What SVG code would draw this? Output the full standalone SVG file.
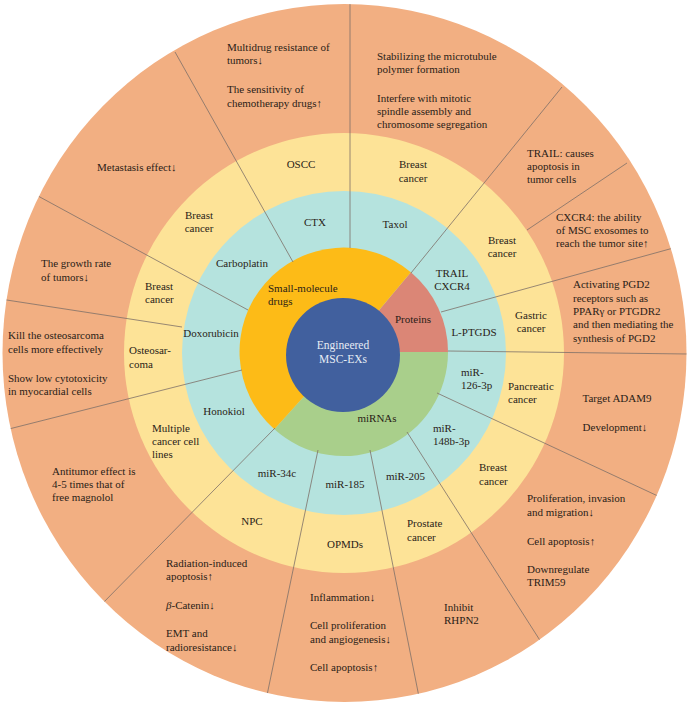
<svg xmlns="http://www.w3.org/2000/svg" width="688" height="709" viewBox="0 0 688 709">
<style>
text{font-family:"Liberation Serif","DejaVu Serif",serif;font-size:11px;fill:#2a1d17}
.c{text-anchor:middle}
.w{fill:#e6ecf4;font-size:11.5px}
.ln{stroke:#7d7068;stroke-width:0.8;fill:none}
</style>
<defs>
<clipPath id="outerClip"><ellipse cx="344.5" cy="353" rx="342" ry="349"/></clipPath>
</defs>
<rect width="688" height="709" fill="#ffffff"/>
<g id="rings">
<ellipse cx="344.5" cy="353" rx="342" ry="349" fill="#F2AF82"/>
<circle cx="344" cy="353" r="220" fill="#FDE397"/>
<circle cx="344" cy="353" r="162" fill="#B5E3DE"/>
<path id="w-red" d="M344,352 L410.85,272.33 A104,104 0 0,1 448,352 Z" fill="#DB8676"/>
<path id="w-green" d="M344,352 L448,352 A104,104 0 0,1 274.4,429.3 Z" fill="#A9CF8B"/>
<path id="w-orange" d="M344,352 L274.4,429.3 A104,104 0 0,1 410.85,272.33 Z" fill="#FDBB17"/>
<circle cx="343" cy="355" r="57" fill="#41609E"/>
</g>
<g id="connectors" clip-path="url(#outerClip)">
<line class="ln" x1="175" y1="52" x2="293" y2="262"/>
<line class="ln" x1="350" y1="0" x2="350" y2="248"/>
<line class="ln" x1="562" y1="87" x2="411" y2="273"/>
<line class="ln" x1="627" y1="163" x2="527" y2="230"/>
<line class="ln" x1="677" y1="247" x2="441" y2="312"/>
<line class="ln" x1="448" y1="351" x2="688" y2="354"/>
<line class="ln" x1="437" y1="393" x2="660" y2="497"/>
<line class="ln" x1="407" y1="432" x2="541" y2="642"/>
<line class="ln" x1="370" y1="450" x2="420" y2="702"/>
<line class="ln" x1="318" y1="450" x2="266" y2="700"/>
<line class="ln" x1="275" y1="428" x2="100" y2="606"/>
<line class="ln" x1="242" y1="370" x2="5" y2="430"/>
<line class="ln" x1="182" y1="327" x2="0" y2="299"/>
<line class="ln" x1="248" y1="310" x2="38" y2="196"/>
</g>
<g id="center"><text class="c w" x="343" y="349">Engineered</text><text class="c w" x="343" y="363">MSC-EXs</text></g>
<g id="cat-small"><text x="268" y="292">Small-molecule</text><text x="268" y="305">drugs</text></g>
<g id="cat-proteins"><text class="c" x="413" y="323">Proteins</text></g>
<g id="cat-mirnas"><text class="c" x="377" y="422">miRNAs</text></g>
<g id="cargo-ctx"><text class="c" x="315" y="226">CTX</text></g>
<g id="cargo-taxol"><text class="c" x="395" y="228">Taxol</text></g>
<g id="cargo-trail"><text class="c" x="452" y="277">TRAIL</text><text class="c" x="452" y="290">CXCR4</text></g>
<g id="cargo-lptgds"><text class="c" x="474" y="336">L-PTGDS</text></g>
<g id="cargo-mir126"><text x="461" y="376">miR-</text><text x="461" y="389">126-3p</text></g>
<g id="cargo-mir148"><text x="433" y="432">miR-</text><text x="433" y="445">148b-3p</text></g>
<g id="cargo-mir205"><text x="386" y="480">miR-205</text></g>
<g id="cargo-mir185"><text class="c" x="345" y="488">miR-185</text></g>
<g id="cargo-mir34c"><text class="c" x="277" y="477">miR-34c</text></g>
<g id="cargo-honokiol"><text class="c" x="224" y="415">Honokiol</text></g>
<g id="cargo-doxorubicin"><text class="c" x="211" y="337">Doxorubicin</text></g>
<g id="cargo-carboplatin"><text class="c" x="242" y="267">Carboplatin</text></g>
<g id="dis-oscc"><text class="c" x="301" y="168">OSCC</text></g>
<g id="dis-breast1"><text class="c" x="199" y="219">Breast</text><text class="c" x="199" y="232">cancer</text></g>
<g id="dis-breast2"><text class="c" x="413" y="168">Breast</text><text class="c" x="413" y="182">cancer</text></g>
<g id="dis-breast3"><text class="c" x="502" y="244">Breast</text><text class="c" x="502" y="257">cancer</text></g>
<g id="dis-gastric"><text class="c" x="531" y="319">Gastric</text><text class="c" x="531" y="332">cancer</text></g>
<g id="dis-pancreatic"><text x="508" y="390">Pancreatic</text><text x="508" y="403">cancer</text></g>
<g id="dis-breast4"><text x="479" y="471">Breast</text><text x="479" y="485">cancer</text></g>
<g id="dis-prostate"><text x="407" y="527">Prostate</text><text x="407" y="541">cancer</text></g>
<g id="dis-opmds"><text class="c" x="345" y="548">OPMDs</text></g>
<g id="dis-npc"><text class="c" x="252" y="525">NPC</text></g>
<g id="dis-multiple"><text x="152" y="432">Multiple</text><text x="152" y="445">cancer cell</text><text x="152" y="458">lines</text></g>
<g id="dis-osteo"><text x="129" y="354">Osteosar-</text><text x="129" y="368">coma</text></g>
<g id="dis-breast5"><text x="145" y="290">Breast</text><text x="145" y="303">cancer</text></g>
<g id="eff-oscc"><text x="227" y="51">Multidrug resistance of</text><text x="227" y="64">tumors↓</text><text x="227" y="93">The sensitivity of</text><text x="227" y="107">chemotherapy drugs↑</text></g>
<g id="eff-taxol"><text x="377" y="60">Stabilizing the microtubule</text><text x="377" y="73">polymer formation</text><text x="377" y="102">Interfere with mitotic</text><text x="377" y="115">spindle assembly and</text><text x="377" y="128">chromosome segregation</text></g>
<g id="eff-trail"><text x="527" y="157">TRAIL: causes</text><text x="527" y="170">apoptosis in</text><text x="527" y="183">tumor cells</text></g>
<g id="eff-cxcr4"><text x="556" y="221">CXCR4: the ability</text><text x="556" y="234">of MSC exosomes to</text><text x="556" y="247">reach the tumor site↑</text></g>
<g id="eff-lptgds"><text x="573" y="288">Activating PGD2</text><text x="573" y="302">receptors such as</text><text x="573" y="315">PPARγ or PTGDR2</text><text x="573" y="328">and then mediating the</text><text x="573" y="342">synthesis of PGD2</text></g>
<g id="eff-mir126"><text class="c" x="617" y="402">Target ADAM9</text><text class="c" x="615" y="431">Development↓</text></g>
<g id="eff-mir148"><text x="527" y="502">Proliferation, invasion</text><text x="527" y="516">and migration↓</text><text x="527" y="545">Cell apoptosis↑</text><text x="527" y="573">Downregulate</text><text x="527" y="586">TRIM59</text></g>
<g id="eff-mir205"><text x="444" y="611">Inhibit</text><text x="444" y="624">RHPN2</text></g>
<g id="eff-mir185"><text x="310" y="601">Inflammation↓</text><text x="310" y="629">Cell proliferation</text><text x="310" y="643">and angiogenesis↓</text><text x="310" y="671">Cell apoptosis↑</text></g>
<g id="eff-mir34c"><text x="166" y="567">Radiation-induced</text><text x="166" y="580">apoptosis↑</text><text x="166" y="609"><tspan font-style="italic">β</tspan>-Catenin↓</text><text x="166" y="637">EMT and</text><text x="166" y="651">radioresistance↓</text></g>
<g id="eff-honokiol"><text x="52" y="475">Antitumor effect is</text><text x="52" y="488">4-5 times that of</text><text x="52" y="501">free magnolol</text></g>
<g id="eff-doxo-osteo"><text x="8" y="339">Kill the osteosarcoma</text><text x="8" y="353">cells more effectively</text><text x="8" y="382">Show low cytotoxicity</text><text x="8" y="395">in myocardial cells</text></g>
<g id="eff-doxo-breast"><text x="41" y="267">The growth rate</text><text x="41" y="281">of tumors↓</text></g>
<g id="eff-carboplatin"><text x="97" y="171">Metastasis effect↓</text></g>
</svg>
